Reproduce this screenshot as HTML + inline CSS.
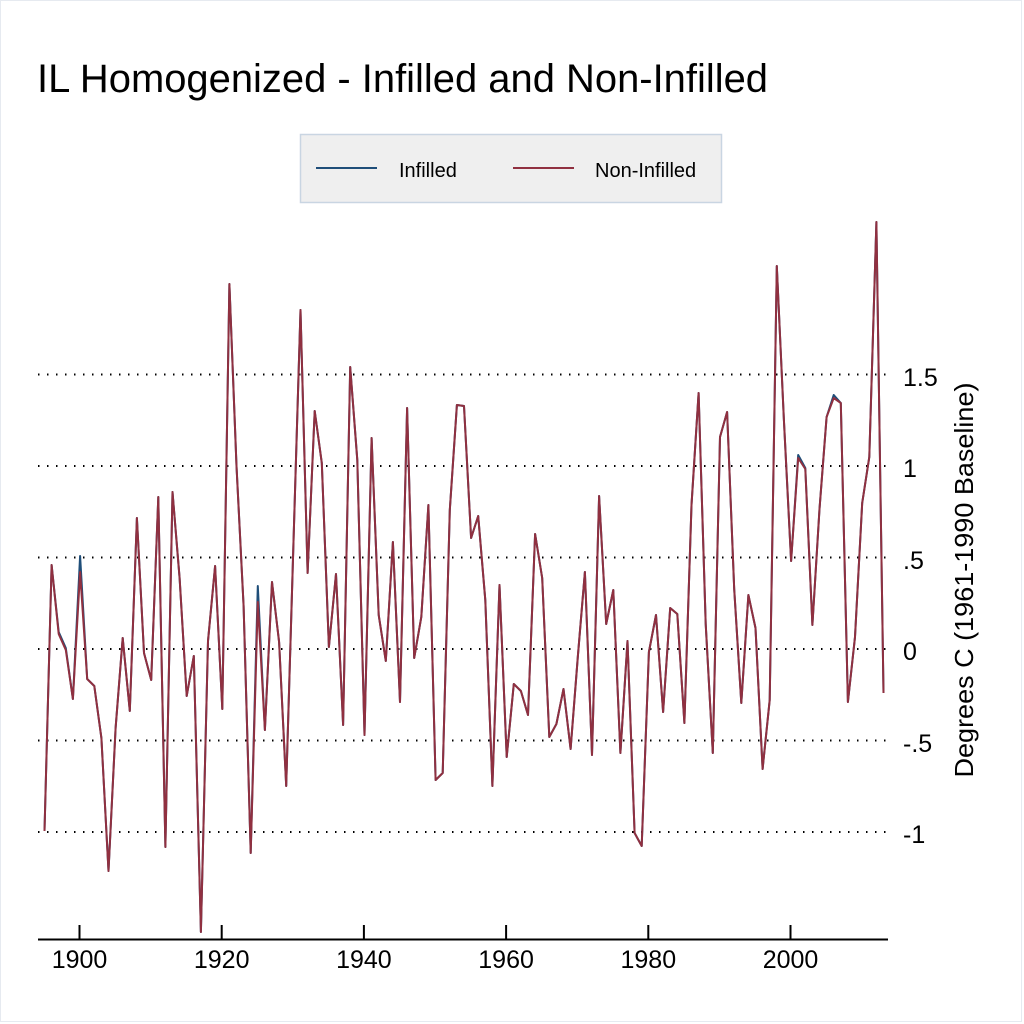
<!DOCTYPE html>
<html><head><meta charset="utf-8"><style>
html,body{margin:0;padding:0;background:#fff}
svg{display:block}
text{font-family:"Liberation Sans",Arial,sans-serif;fill:#000}
</style></head><body>
<svg width="1024" height="1024" viewBox="0 0 1024 1024" xmlns="http://www.w3.org/2000/svg">
<rect x="0.5" y="0.5" width="1021" height="1021" fill="#fff" stroke="#e6eaf0" stroke-width="1"/>
<text x="37" y="92" font-size="40" textLength="731" lengthAdjust="spacingAndGlyphs">IL Homogenized - Infilled and Non-Infilled</text>
<rect x="300.5" y="134.5" width="421" height="68" fill="#efefef" stroke="#c9d5e2" stroke-width="1.5"/>
<line x1="316" y1="168" x2="377" y2="168" stroke="#1f4e79" stroke-width="2"/>
<text x="399" y="177" font-size="20">Infilled</text>
<line x1="513" y1="168" x2="574" y2="168" stroke="#903040" stroke-width="2"/>
<text x="595" y="177" font-size="20">Non-Infilled</text>
<g stroke="#000" stroke-width="2" stroke-dasharray="1.5 7.5" fill="none">
<line x1="38" y1="374.5" x2="886" y2="374.5"/>
<line x1="38" y1="466" x2="886" y2="466"/>
<line x1="38" y1="557.5" x2="886" y2="557.5"/>
<line x1="38" y1="649" x2="886" y2="649"/>
<line x1="38" y1="740.5" x2="886" y2="740.5"/>
<line x1="38" y1="832" x2="886" y2="832"/>
</g>
<line x1="38" y1="939.5" x2="888" y2="939.5" stroke="#000" stroke-width="2"/>
<g stroke="#000" stroke-width="2">
<line x1="79.5" y1="925" x2="79.5" y2="939"/>
<line x1="221.7" y1="925" x2="221.7" y2="939"/>
<line x1="363.9" y1="925" x2="363.9" y2="939"/>
<line x1="506.1" y1="925" x2="506.1" y2="939"/>
<line x1="648.3" y1="925" x2="648.3" y2="939"/>
<line x1="790.5" y1="925" x2="790.5" y2="939"/>
</g>
<g font-size="25" text-anchor="middle">
<text x="79.5" y="968">1900</text>
<text x="221.7" y="968">1920</text>
<text x="363.9" y="968">1940</text>
<text x="506.1" y="968">1960</text>
<text x="648.3" y="968">1980</text>
<text x="790.5" y="968">2000</text>
</g>
<g font-size="25">
<text x="903" y="386">1.5</text>
<text x="903" y="477">1</text>
<text x="903" y="569">.5</text>
<text x="903" y="660">0</text>
<text x="903" y="752">-.5</text>
<text x="903" y="843">-1</text>
</g>
<text transform="translate(973,580) rotate(-90)" font-size="26" text-anchor="middle" textLength="395" lengthAdjust="spacingAndGlyphs">Degrees C (1961-1990 Baseline)</text>
<polyline fill="none" stroke="#1f4e79" stroke-width="2" stroke-linejoin="round" points="44.5,831 51.6,565 58.7,632 65.8,648 72.9,699 80.1,556 87.2,679 94.3,686 101.4,738 108.5,871 115.6,728 122.7,638 129.8,711 136.9,518 144.0,653 151.2,680 158.3,497 165.4,847 172.5,492 179.6,578 186.7,696 193.8,656 200.9,932 208.0,641 215.1,566 222.3,709 229.4,284 236.5,466 243.6,606 250.7,853 257.8,586 264.9,730 272.0,582 279.1,642 286.2,786 293.4,545 300.5,310 307.6,573 314.7,411 321.8,463 328.9,647 336.0,574 343.1,725 350.2,367 357.3,460 364.5,735 371.6,438 378.7,615 385.8,661 392.9,542 400.0,702 407.1,408 414.2,658 421.3,617 428.4,505 435.6,780 442.7,773 449.8,510 456.9,405 464.0,406 471.1,538 478.2,516 485.3,600 492.4,786 499.5,585 506.7,757 513.8,684 520.9,691 528.0,715 535.1,534 542.2,578 549.3,737 556.4,724 563.5,689 570.6,749 577.8,657 584.9,572 592.0,755 599.1,496 606.2,624 613.3,590 620.4,753 627.5,641 634.6,833 641.7,846 648.9,652 656.0,615 663.1,712 670.2,608 677.3,614 684.4,723 691.5,505 698.6,393 705.7,624 712.8,753 720.0,437 727.1,412 734.2,589 741.3,703 748.4,595 755.5,628 762.6,769 769.7,700 776.8,266 783.9,420 791.1,561 798.2,455 805.3,468 812.4,625 819.5,509 826.6,417 833.7,395 840.8,403 847.9,702 855.0,637 862.2,503 869.3,457 876.4,222 883.5,693"/>
<polyline fill="none" stroke="#903040" stroke-width="2" stroke-linejoin="round" points="44.5,831 51.6,565 58.7,634 65.8,650 72.9,699 80.1,572 87.2,679 94.3,686 101.4,738 108.5,871 115.6,728 122.7,638 129.8,711 136.9,518 144.0,653 151.2,680 158.3,497 165.4,847 172.5,492 179.6,578 186.7,696 193.8,656 200.9,932 208.0,641 215.1,566 222.3,709 229.4,284 236.5,466 243.6,606 250.7,853 257.8,602 264.9,730 272.0,582 279.1,642 286.2,786 293.4,545 300.5,310 307.6,573 314.7,411 321.8,463 328.9,647 336.0,574 343.1,725 350.2,367 357.3,460 364.5,735 371.6,438 378.7,615 385.8,661 392.9,542 400.0,702 407.1,408 414.2,658 421.3,617 428.4,505 435.6,780 442.7,773 449.8,510 456.9,405 464.0,406 471.1,538 478.2,516 485.3,600 492.4,786 499.5,585 506.7,757 513.8,684 520.9,691 528.0,715 535.1,534 542.2,578 549.3,737 556.4,724 563.5,689 570.6,749 577.8,657 584.9,572 592.0,755 599.1,496 606.2,624 613.3,590 620.4,753 627.5,641 634.6,833 641.7,846 648.9,652 656.0,615 663.1,712 670.2,608 677.3,614 684.4,723 691.5,505 698.6,393 705.7,624 712.8,753 720.0,437 727.1,412 734.2,589 741.3,703 748.4,595 755.5,628 762.6,769 769.7,700 776.8,266 783.9,420 791.1,561 798.2,458 805.3,469 812.4,625 819.5,509 826.6,417 833.7,398 840.8,403 847.9,702 855.0,637 862.2,503 869.3,457 876.4,222 883.5,693"/>
</svg>
</body></html>
